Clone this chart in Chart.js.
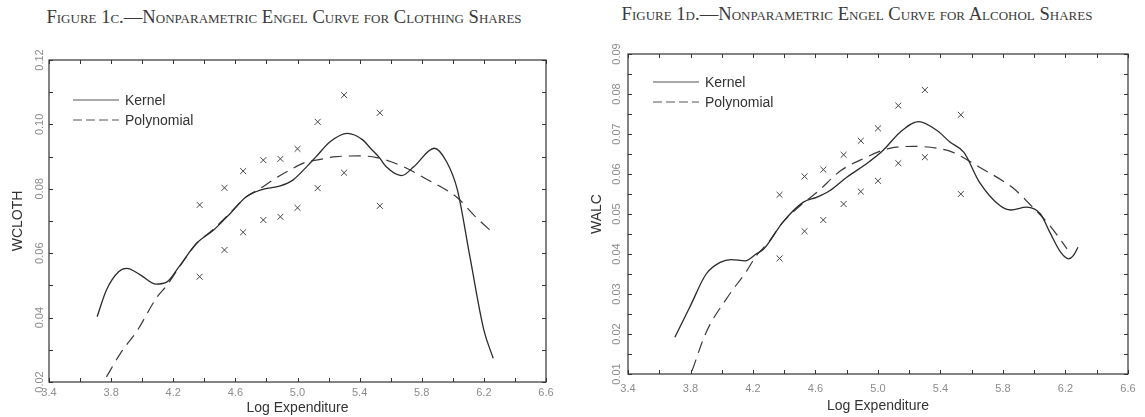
<!DOCTYPE html>
<html>
<head>
<meta charset="utf-8">
<script src="https://cdn.jsdelivr.net/npm/chart.js@4.4.0/dist/chart.umd.min.js"></script>
<style>
  body { margin: 0; background: #fff; width: 1145px; height: 417px; overflow: hidden; position: relative; }
  canvas { position: absolute; top: 0; }
  .title {
    position: absolute; white-space: nowrap; transform: translateX(-50%);
    font-family: "Liberation Serif", serif; font-variant: small-caps;
    font-size: 18.6px; line-height: 20px; color: #3a3a3a;
  }
</style>
</head>
<body>
<div class="title" style="left:284px; top:7px">Figure 1c.—Nonparametric Engel Curve for Clothing Shares</div>
<div class="title" style="left:857px; top:4px">Figure 1d.—Nonparametric Engel Curve for Alcohol Shares</div>
<canvas id="cloth" width="570" height="417" style="left:0"></canvas>
<canvas id="alc" width="575" height="417" style="left:570px"></canvas>
<script>
// cell means (log expenditure groups)
const cellX = [4.37, 4.53, 4.65, 4.78, 4.89, 5.00, 5.13, 5.30, 5.53];

// clothing
const clothUpper = [0.0750, 0.0803, 0.0855, 0.0889, 0.0893, 0.0924, 0.1008, 0.1091, 0.1036];
const clothLower = [0.0527, 0.0610, 0.0665, 0.0703, 0.0713, 0.0741, 0.0802, 0.0850, 0.0747];
const clothKernelX = [3.71, 3.77, 3.85, 3.90, 3.99, 4.09, 4.16, 4.24, 4.35, 4.46, 4.57, 4.67, 4.76, 4.89, 4.97,
  5.06, 5.12, 5.21, 5.32, 5.42, 5.47, 5.53, 5.57, 5.67, 5.75, 5.88, 5.96, 6.03, 6.11, 6.20, 6.26];
const clothKernelY = [0.0403, 0.0486, 0.0543, 0.0553, 0.0532, 0.0504, 0.0511, 0.0560, 0.0631, 0.0672, 0.0725, 0.0775, 0.0796, 0.0809, 0.0827,
  0.0869, 0.0900, 0.0946, 0.0972, 0.0952, 0.0926, 0.0895, 0.0869, 0.0841, 0.0869, 0.0926, 0.0884, 0.0796, 0.0589, 0.0361, 0.0274];
const clothPolyX = [3.77, 3.86, 3.97, 4.09, 4.16, 4.24, 4.35, 4.46, 4.57, 4.67, 4.76, 4.84, 4.95, 5.06, 5.12,
  5.25, 5.40, 5.51, 5.68, 5.85, 5.92, 6.03, 6.14, 6.27];
const clothPolyY = [0.0216, 0.0289, 0.0361, 0.0460, 0.0501, 0.0558, 0.0630, 0.0675, 0.0727, 0.0775, 0.0801, 0.0827, 0.0858, 0.0884, 0.0889,
  0.0900, 0.0902, 0.0897, 0.0869, 0.0825, 0.0807, 0.0772, 0.0716, 0.0658];

// alcohol
const alcUpper = [0.0548, 0.0594, 0.0611, 0.0648, 0.0683, 0.0714, 0.0771, 0.0810, 0.0748];
const alcLower = [0.0389, 0.0457, 0.0485, 0.0525, 0.0556, 0.0583, 0.0627, 0.0642, 0.0550];
const alcKernelX = [3.70, 3.80, 3.90, 3.99, 4.06, 4.15, 4.22, 4.27, 4.39, 4.52, 4.61, 4.69, 4.80, 4.91, 5.03,
  5.14, 5.26, 5.38, 5.46, 5.55, 5.65, 5.78, 5.85, 5.95, 6.04, 6.10, 6.17, 6.22, 6.25, 6.28];
const alcKernelY = [0.0192, 0.0271, 0.0350, 0.0379, 0.0386, 0.0383, 0.0400, 0.0413, 0.0479, 0.0529, 0.0542, 0.0558, 0.0592, 0.0621, 0.0658,
  0.0704, 0.0731, 0.0708, 0.0680, 0.0654, 0.0579, 0.0521, 0.0510, 0.0517, 0.0500, 0.0454, 0.0404, 0.0388, 0.0396, 0.0417];
const alcPolyX = [3.81, 3.90, 4.03, 4.16, 4.22, 4.30, 4.39, 4.50, 4.62, 4.76, 4.91, 5.06, 5.23, 5.40, 5.48,
  5.65, 5.87, 5.97, 6.10, 6.21];
const alcPolyY = [0.0108, 0.0204, 0.0288, 0.0358, 0.0395, 0.0430, 0.0479, 0.0520, 0.0558, 0.0608, 0.0639, 0.0663, 0.0669, 0.0663, 0.0654,
  0.0617, 0.0563, 0.0525, 0.0471, 0.0413];

const legendLabels = ['Kernel', 'Polynomial'];

const pts = (xs, ys) => xs.map((x, i) => ({x: x, y: ys[i]}));

// box, inward ticks and the little legend
const framePlugin = {
  id: 'frame',
  afterDraw(chart, args, opts) {
    const {ctx, chartArea: a} = chart;
    const x = chart.scales.x, y = chart.scales.y;
    ctx.save();
    ctx.strokeStyle = '#333';
    ctx.lineWidth = 1.2;
    ctx.strokeRect(a.left, a.top, a.right - a.left, a.bottom - a.top);
    ctx.beginPath();
    x.ticks.forEach(t => {
      const p = Math.round(x.getPixelForValue(t.value)) + 0.5;
      ctx.moveTo(p, a.bottom); ctx.lineTo(p, a.bottom - 4);
      ctx.moveTo(p, a.top); ctx.lineTo(p, a.top + 4);
    });
    y.ticks.forEach(t => {
      const p = Math.round(y.getPixelForValue(t.value)) + 0.5;
      ctx.moveTo(a.left, p); ctx.lineTo(a.left + 4, p);
      ctx.moveTo(a.right, p); ctx.lineTo(a.right - 4, p);
    });
    ctx.lineWidth = 1;
    ctx.stroke();

    const lx = a.left + opts.dx, ly = a.top + opts.dy;
    ctx.font = '14px "Liberation Sans", Arial, sans-serif';
    ctx.fillStyle = '#333';
    ctx.textBaseline = 'middle';
    legendLabels.forEach((lab, i) => {
      const yy = ly + i * 20;
      ctx.beginPath();
      ctx.strokeStyle = '#555';
      ctx.setLineDash(i === 0 ? [] : [9, 4]);
      ctx.lineWidth = 1;
      ctx.moveTo(lx, yy); ctx.lineTo(lx + 46, yy);
      ctx.stroke();
      ctx.setLineDash([]);
      ctx.fillText(lab, lx + 52, yy + 1);
    });
    ctx.restore();
  }
};

function makeChart(id, cfg) {
  const tickFont = {family: '"Liberation Sans", Arial, sans-serif', size: 11};
  const titleFont = {family: '"Liberation Sans", Arial, sans-serif', size: 14};
  return new Chart(document.getElementById(id), {
    type: 'scatter',
    data: {
      datasets: [
        {label: 'Kernel', type: 'line', data: pts(cfg.kx, cfg.ky), borderColor: '#2b2b2b', borderWidth: 1.3,
         pointRadius: 0, cubicInterpolationMode: 'monotone', fill: false},
        {label: 'Polynomial', type: 'line', data: pts(cfg.px, cfg.py), borderColor: '#3a3a3a', borderWidth: 1.2,
         borderDash: [12, 7], pointRadius: 0, cubicInterpolationMode: 'monotone', fill: false},
        {label: 'cells', data: pts(cellX.concat(cellX), cfg.up.concat(cfg.lo)), pointStyle: 'crossRot',
         pointRadius: 4.2, borderColor: '#444', borderWidth: 1}
      ]
    },
    options: {
      responsive: false,
      animation: false,
      layout: {padding: {left: 0, top: cfg.top, right: cfg.right, bottom: 0}},
      plugins: {legend: {display: false}, tooltip: {enabled: false}, frame: {dx: cfg.legDx, dy: cfg.legDy}},
      scales: {
        x: {
          type: 'linear', min: 3.4, max: 6.6,
          afterFit: s => { s.height = cfg.xh; },
          grid: {display: false, drawTicks: false}, border: {display: false},
          ticks: {stepSize: 0.2, maxTicksLimit: 100, autoSkip: false, maxRotation: 0, color: '#8c8c8c',
                  font: tickFont, padding: cfg.xpad,
                  callback: (v, i) => i % 2 === 0 ? v.toFixed(1) : ''},
          title: {display: true, text: 'Log Expenditure', color: '#333', font: titleFont,
                  padding: {top: 0, bottom: cfg.xtb}}
        },
        y: {
          type: 'linear', min: cfg.ymin, max: cfg.ymax,
          afterFit: s => { s.width = cfg.yw; },
          grid: {display: false, drawTicks: false}, border: {display: false},
          ticks: {stepSize: cfg.ystep, maxTicksLimit: 100, autoSkip: false, minRotation: 90, maxRotation: 90,
                  crossAlign: 'center', color: '#8c8c8c', font: tickFont, padding: cfg.ypad,
                  callback: (v, i) => i % 2 === 0 ? v.toFixed(2) : ''},
          title: {display: true, text: cfg.ytitle, color: '#333', font: titleFont,
                  padding: {top: cfg.ytp, bottom: 0}}
        }
      }
    },
    plugins: [framePlugin]
  });
}

makeChart('cloth', {
  kx: clothKernelX, ky: clothKernelY, px: clothPolyX, py: clothPolyY, up: clothUpper, lo: clothLower,
  ymin: 0.02, ymax: 0.12, ystep: 0.01, ytitle: 'WCLOTH',
  top: 60, right: 24, xh: 35, yw: 49, xpad: 4, xtb: 0, ypad: -2, ytp: 10, legDx: 24, legDy: 40
});
makeChart('alc', {
  kx: alcKernelX, ky: alcKernelY, px: alcPolyX, py: alcPolyY, up: alcUpper, lo: alcLower,
  ymin: 0.01, ymax: 0.09, ystep: 0.005, ytitle: 'WALC',
  top: 54, right: 17, xh: 43, yw: 58, xpad: 8, xtb: 2, ypad: 0, ytp: 19, legDx: 25, legDy: 28
});
</script>
</body>
</html>
